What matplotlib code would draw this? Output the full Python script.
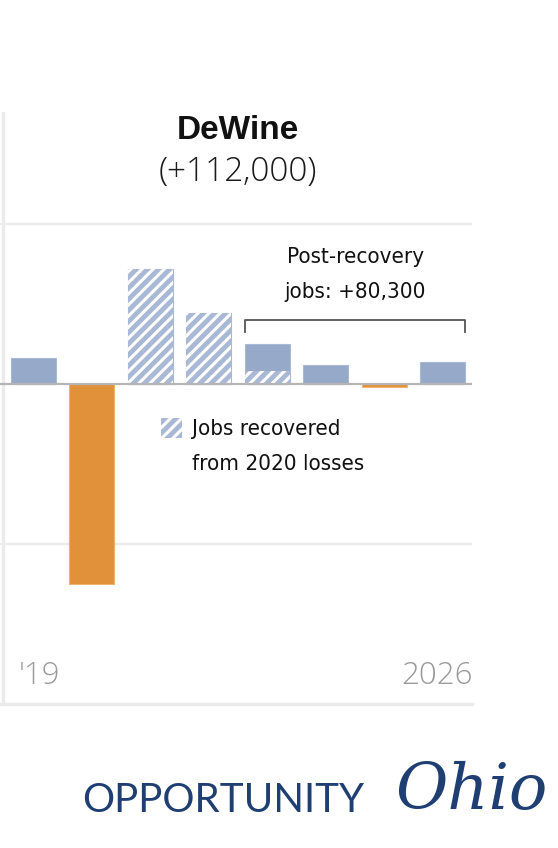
import matplotlib.pyplot as plt
import matplotlib as mpl
from matplotlib import font_manager

years = ['2019', '2020', '2021', '2022', '2023', '2024', '2025', '2026']
tick_labels = ["'19", '', '', '', '', '', '', '2026']
jobs = [32000, -250000, 144000, 89000, 50000, 24000, -4000, 27000]
recovered = [0, 0, 144000, 89000, 16000, 0, 0, 0]

blue = '#97a9c9'
orange = '#e0913a'
grid_c = '#ebebeb'

# narrow font for annotations if there is one
names = set(f.name for f in font_manager.fontManager.ttflist)
narrow = 'Liberation Sans Narrow' if 'Liberation Sans Narrow' in names else 'DejaVu Sans'

mpl.rcParams['hatch.color'] = 'white'
mpl.rcParams['hatch.linewidth'] = 2.2

fig = plt.figure(figsize=(5.58, 8.48), dpi=100)
ax = fig.add_axes([0, 1 - 704 / 848, 472 / 558, (704 - 112) / 848])

x = list(range(len(years)))

# plain bars
for i, v in enumerate(jobs):
    col = blue if v >= 0 else orange
    ax.bar(i, v, width=0.77, color=col, edgecolor='#a9b8d3' if v >= 0 else '#f0b46e',
           linewidth=0.8, zorder=3)

# hatched recovered part
for i, r in enumerate(recovered):
    if r > 0:
        ax.bar(i, r, width=0.77, color='#a9b8d4', hatch='///', edgecolor='white',
               linewidth=0, zorder=4)

ax.set_xlim(-0.57, 7.5)
ax.set_ylim(-400000, 340000)

# gridlines
for g in [200000, -200000]:
    ax.axhline(g, color=grid_c, lw=1.6, zorder=1)
ax.axhline(0, color='#b5b5b5', lw=1.6, zorder=5)
ax.axhline(-400000, color=grid_c, lw=2.5, zorder=1, clip_on=False)
ax.axvline(-0.52, color=grid_c, lw=2.5, zorder=1)

for s in ax.spines.values():
    s.set_visible(False)
ax.set_yticks([])
ax.set_xticks(x)
ax.set_xticklabels([])
ax.tick_params(length=0)
for i, lab in enumerate(tick_labels):
    if lab:
        ax.text(i + (0.1 if i == 0 else -0.1), -365000, lab, ha='center', va='center',
                fontsize=22.5, color='#9a9a9a', family='Open Sans', fontweight='light')

# title
ax.text(3.5, 317000, 'DeWine', ha='center', va='center', fontsize=24,
        fontweight='bold', family='Liberation Sans', color='#111111')
ax.text(3.5, 265000, '(+112,000)', ha='center', va='center', fontsize=24,
        family='Open Sans', fontweight='light', color='#1a1a1a')

# bracket for post-recovery
bx0, bx1 = 3.62, 7.38
by = 80000
ax.plot([bx0, bx0, bx1, bx1], [by - 15000, by, by, by - 15000],
        color='#555555', lw=1.3, zorder=6)
ax.text(5.51, 137000, 'Post-recovery\njobs: +80,300', ha='center', va='center',
        fontsize=16, family=narrow, fontstretch='condensed',
        linespacing=1.95, color='#111111')

# legend
ax.bar(2.37, 25000, bottom=-67000, width=0.36, color='#a9b8d4', hatch='///',
       edgecolor='white', linewidth=0, zorder=4)
ax.text(2.71, -78000, 'Jobs recovered\nfrom 2020 losses', ha='left', va='center',
        fontsize=16, family=narrow, fontstretch='condensed',
        linespacing=1.95, color='#111111')

# logo
fig.text(0.40, 1 - 800 / 848, 'OPPORTUNITY', ha='center', va='center',
         fontsize=29, color='#1f3f73', family='Lato')
fig.text(0.845, 1 - 792 / 848, 'Ohio', ha='center', va='center', fontsize=46,
         color='#1f3f73', family='DejaVu Serif', style='italic')

fig.savefig('out.png', dpi=100)
